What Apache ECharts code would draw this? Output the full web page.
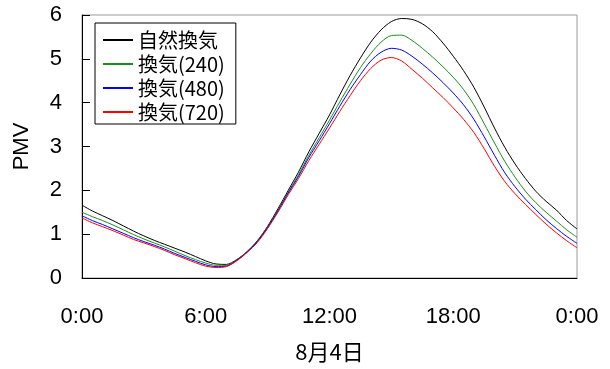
<!DOCTYPE html>
<html>
<head>
<meta charset="utf-8">
<script src="https://cdn.jsdelivr.net/npm/echarts@6/dist/echarts.min.js"></script>
<style>
  html, body { margin: 0; padding: 0; background: #fff; }
  #chart { width: 610px; height: 369px; }
</style>
</head>
<body>
<div id="chart"></div>
<script>
// Hour of day (8月4日), every 30 minutes
const hours = [
  0, 0.5, 1, 1.5, 2, 2.5, 3, 3.5, 4, 4.5, 5, 5.5, 6, 6.5, 7, 7.5, 8, 8.5, 9, 9.5,
  10, 10.5, 11, 11.5, 12, 12.5, 13, 13.5, 14, 14.5, 15, 15.5, 16, 16.5, 17, 17.5,
  18, 18.5, 19, 19.5, 20, 20.5, 21, 21.5, 22, 22.5, 23, 23.5, 24
];

const seriesNames = ['自然換気', '換気(240)', '換気(480)', '換気(720)'];

// PMV values
const pmvNatural = [
  1.66, 1.53, 1.42, 1.31, 1.19, 1.07, 0.96, 0.86, 0.77, 0.68, 0.59, 0.49, 0.39, 0.32, 0.31, 0.42, 0.60, 0.85, 1.18, 1.58,
  2.00, 2.42, 2.88, 3.30, 3.72, 4.18, 4.62, 5.02, 5.38, 5.66, 5.85, 5.92, 5.90, 5.80, 5.62, 5.36,
  5.06, 4.73, 4.35, 3.90, 3.42, 2.98, 2.60, 2.27, 1.98, 1.75, 1.55, 1.31, 1.12
];
const pmv240 = [
  1.50, 1.40, 1.31, 1.21, 1.10, 0.99, 0.89, 0.80, 0.71, 0.61, 0.51, 0.42, 0.34, 0.29, 0.29, 0.41, 0.60, 0.84, 1.16, 1.55,
  1.96, 2.36, 2.80, 3.20, 3.60, 4.02, 4.42, 4.80, 5.12, 5.38, 5.53, 5.54, 5.42, 5.24, 5.04, 4.82,
  4.58, 4.30, 3.95, 3.52, 3.08, 2.66, 2.30, 1.98, 1.72, 1.50, 1.30, 1.10, 0.93
];
const pmv480 = [
  1.42, 1.31, 1.22, 1.12, 1.02, 0.92, 0.83, 0.75, 0.66, 0.56, 0.47, 0.38, 0.30, 0.26, 0.27, 0.40, 0.59, 0.83, 1.15, 1.53,
  1.94, 2.32, 2.75, 3.13, 3.52, 3.92, 4.30, 4.64, 4.95, 5.15, 5.24, 5.20, 5.06, 4.88, 4.68, 4.46,
  4.22, 3.95, 3.62, 3.22, 2.80, 2.40, 2.08, 1.80, 1.56, 1.33, 1.13, 0.95, 0.79
];
const pmv720 = [
  1.37, 1.26, 1.17, 1.08, 0.98, 0.88, 0.80, 0.72, 0.63, 0.53, 0.44, 0.35, 0.27, 0.24, 0.26, 0.39, 0.58, 0.81, 1.13, 1.50,
  1.90, 2.27, 2.68, 3.05, 3.42, 3.80, 4.16, 4.50, 4.78, 4.97, 5.03, 4.95, 4.76, 4.56, 4.34, 4.12,
  3.88, 3.62, 3.32, 2.95, 2.55, 2.20, 1.92, 1.68, 1.45, 1.23, 1.03, 0.85, 0.69
];

const lineColors = ['#000000', '#1a8c1a', '#0000ff', '#ff0000'];
const allValues = [pmvNatural, pmv240, pmv480, pmv720];

const latin = 'Liberation Sans, Arial, sans-serif';
const cjk = '"Noto Sans CJK JP", "Liberation Sans", sans-serif';

const chart = echarts.init(document.getElementById('chart'), null, { renderer: 'canvas' });

chart.setOption({
  animation: false,
  backgroundColor: '#ffffff',
  grid: {
    left: 82, right: 33, top: 15, bottom: 91,
    show: true, borderColor: '#999999', borderWidth: 1
  },
  legend: {
    orient: 'vertical',
    left: 95, top: 23,
    // each key drawn as a short solid stroke in its series colour
    data: seriesNames.map((name, i) => ({
      name: name,
      icon: 'rect',
      itemStyle: { color: lineColors[i], borderWidth: 0, opacity: 1 }
    })),
    itemWidth: 30, itemHeight: 2,
    itemGap: 2,
    itemTextGap: 5,
    padding: [6, 11, 1, 8],
    borderColor: '#000000', borderWidth: 1,
    backgroundColor: '#ffffff',
    textStyle: { fontFamily: cjk, fontSize: 20, lineHeight: 22, color: '#000' }
  },
  xAxis: {
    type: 'value',
    min: 0, max: 24, interval: 6,
    name: '8月4日',
    nameLocation: 'middle',
    nameGap: 63,
    nameTextStyle: { fontFamily: cjk, fontSize: 22, color: '#000' },
    axisLine: { show: true, lineStyle: { color: '#000', width: 1 } },
    axisTick: { show: false },
    splitLine: { show: false },
    axisLabel: {
      fontFamily: latin, fontSize: 22, color: '#000', margin: 28,
      formatter: v => (v % 24) + ':00'
    }
  },
  yAxis: {
    type: 'value',
    min: 0, max: 6, interval: 1,
    name: 'PMV',
    nameLocation: 'middle',
    nameGap: 49,
    nameTextStyle: { fontFamily: latin, fontSize: 22, color: '#000' },
    axisLine: { show: true, lineStyle: { color: '#000', width: 1 } },
    axisTick: { show: true, inside: true, length: 8, lineStyle: { color: '#000' } },
    splitLine: { show: false },
    axisLabel: { fontFamily: latin, fontSize: 22, color: '#000', margin: 20 }
  },
  series: seriesNames.map((name, i) => ({
    name: name,
    type: 'line',
    data: hours.map((h, k) => [h, allValues[i][k]]),
    symbol: 'none',
    smooth: 0.3,
    lineStyle: { color: lineColors[i], width: 1 },
    itemStyle: { color: lineColors[i] }
  }))
});
</script>
</body>
</html>
